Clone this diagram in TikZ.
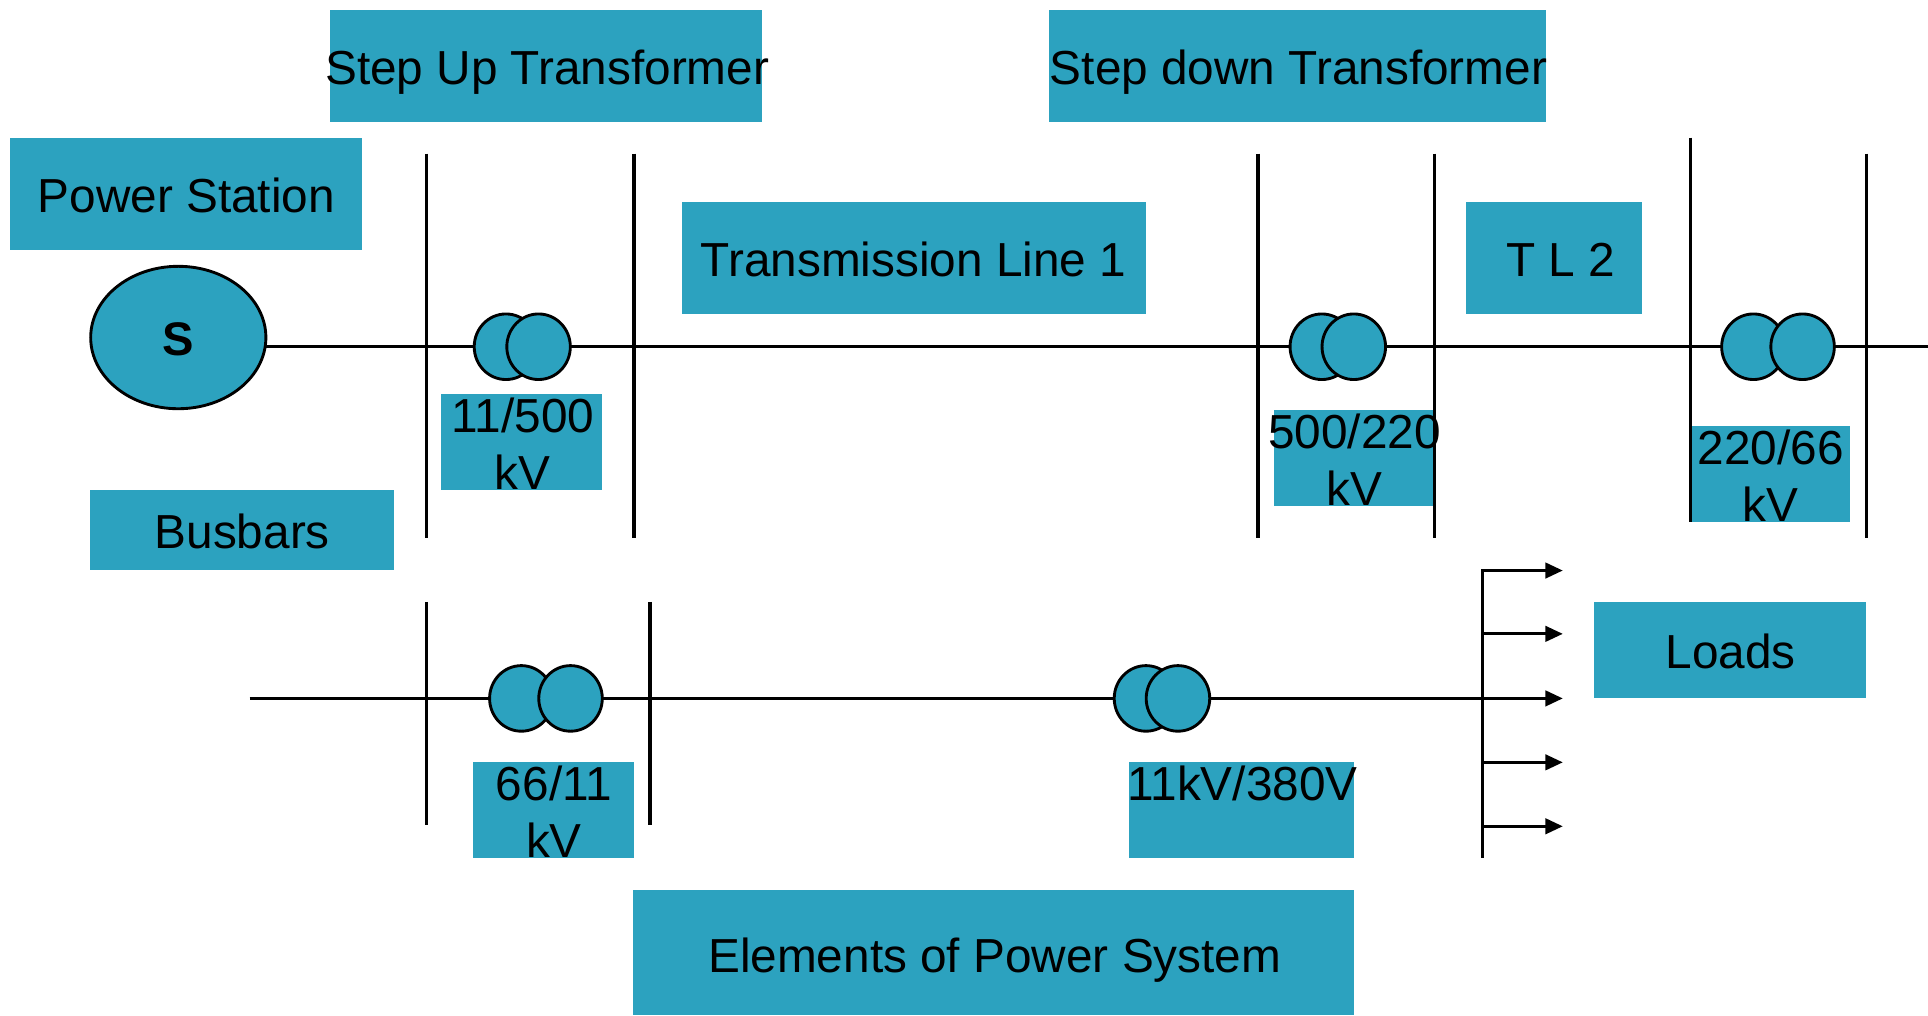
\documentclass[tikz,border=0pt]{standalone}
\usepackage{fontspec}
\setmainfont{Liberation Sans}
\usetikzlibrary{shapes.geometric,arrows.meta}
\definecolor{tealfill}{RGB}{44,162,191}
\tikzset{
  tealbox/.style={fill=tealfill,draw=none,inner sep=0pt,outer sep=0pt},
  lbl/.style={anchor=base,inner sep=0pt,outer sep=0pt,font=\fontsize{23.3}{27}\selectfont},
  wire/.style={line width=1.6pt,black},
  busthin/.style={line width=1.45pt,black},
  busthick/.style={line width=1.8pt,black},
  coil/.style={ellipse,draw=black,line width=1.4pt,fill=tealfill,inner sep=0pt,outer sep=0pt,minimum width=31pt,minimum height=32pt},
  feeder/.style={line width=1.5pt,black,-{Triangle[length=8.5pt,width=7.5pt]}}
}
\newcommand{\tbox}[5]{\node[tealbox,minimum width={(#4-#2)*0.6pt},minimum height={(#5-#3)*0.6pt}] (#1) at ({(#2+#4)/2},{(#3+#5)/2}) {};}
\newcommand{\tlab}[4]{\node[lbl] (#1) at (#2,{#3+14}) {#4};}
\begin{document}
\begin{tikzpicture}[x=0.6pt,y=-0.6pt]
\useasboundingbox (0,0) rectangle (1568,826);
% boxes
\tbox{bStepUp}{268}{8}{619.6}{99.6}
\tbox{bStepDown}{853}{8}{1257}{99.6}
\tbox{bPower}{8}{112}{294}{203}
\tbox{bTL1}{555}{164}{932}{255}
\tbox{bTL2}{1192}{164}{1335}{255}
\tbox{bA}{359}{320.5}{489.5}{398.5}
\tbox{bB}{1036}{333.5}{1166.5}{411.5}
\tbox{bC}{1374}{346.5}{1504.5}{424.5}
\tbox{bBus}{73}{398.5}{320.5}{463.5}
\tbox{bLoads}{1296}{489.5}{1517.5}{567.5}
\tbox{bD}{385}{619.5}{515.5}{697.5}
\tbox{bE}{918}{619.5}{1101}{697.5}
\tbox{bElem}{515}{723.5}{1101}{825.5}
% named points
\coordinate (s1) at (215,282);
\coordinate (e1) at (1568,282);
\coordinate (s2) at (203,568);
\coordinate (j) at (1206,568);
% busbars
\foreach \n/\x/\a/\b/\st in {A/347/125/437.5/busthin,B/515.8/125/437.5/busthick,C/1023/125/437.5/busthick,D/1166.5/125/437.5/busthin,E/1375/112/424.5/busthin,F/1518/125/437.5/busthin,G/347/489.5/671/busthin,H/528.5/489.5/671/busthick}{
  \coordinate (\n t) at (\x,\a);
  \coordinate (\n b) at (\x,\b);
  \draw[\st] (\n t) -- (\n b);
}
% transformers and source
\node[coil] (t1a) at (411.5,282) {};
\node[coil] (t1b) at (438,282) {};
\node[coil] (t2a) at (1075,282) {};
\node[coil] (t2b) at (1101,282) {};
\node[coil] (t3a) at (1426,282) {};
\node[coil] (t3b) at (1466,282) {};
\node[coil] (t4a) at (424,568) {};
\node[coil] (t4b) at (464,568) {};
\node[coil] (t5a) at (932,568) {};
\node[coil] (t5b) at (958,568) {};
\node[ellipse,draw=black,line width=1.4pt,fill=tealfill,inner sep=0pt,outer sep=0pt,minimum width=85.5pt,minimum height=69.5pt] (S) at (145,274.5) {};
% wires
\draw[wire] (s1) -- (t1a.west);
\draw[wire] (t1b.east) -- (t2a.west);
\draw[wire] (t2b.east) -- (t3a.west);
\draw[wire] (t3b.east) -- (e1);
\draw[wire] (s2) -- (t4a.west);
\draw[wire] (t4b.east) -- (t5a.west);
\draw[wire] (t5b.east) -- (j);
% load bus and feeders
\coordinate (lt) at (1206,463);
\coordinate (lb) at (1206,697.5);
\draw[busthin] (lt) -- (lb);
\foreach \i/\y in {1/464,2/515.5,3/568,4/620,5/672}{
  \coordinate (f\i) at (1206,\y);
  \coordinate (g\i) at (1271,\y);
  \draw[feeder] (f\i) -- (g\i);
}
% labels
\tlab{lStepUp}{445}{55}{Step Up Transformer}
\tlab{lStepDown}{1056}{55}{Step down Transformer}
\tlab{lPower}{151.5}{159}{Power Station}
\tlab{lTL1}{743}{211}{Transmission Line 1}
\tlab{lTL2}{1269.5}{211}{T L 2}
\tlab{lA1}{425.5}{338}{11/500}
\tlab{lA2}{425}{384}{kV}
\tlab{lB1}{1101.5}{351}{500/220}
\tlab{lB2}{1101.5}{397}{kV}
\tlab{lC1}{1440}{364}{220/66}
\tlab{lC2}{1440}{410}{kV}
\tlab{lBus}{197}{432}{Busbars}
\tlab{lLoads}{1407.5}{530}{Loads}
\tlab{lD1}{450.5}{637}{66/11}
\tlab{lD2}{450.5}{683}{kV}
\tlab{lE}{1010.5}{637}{11kV/380V}
\tlab{lElem}{809}{777}{Elements of Power System}
\node[anchor=base,inner sep=0pt,font=\fontsize{23}{27}\selectfont\bfseries] (lS) at (145,289) {S};
\end{tikzpicture}
\end{document}
